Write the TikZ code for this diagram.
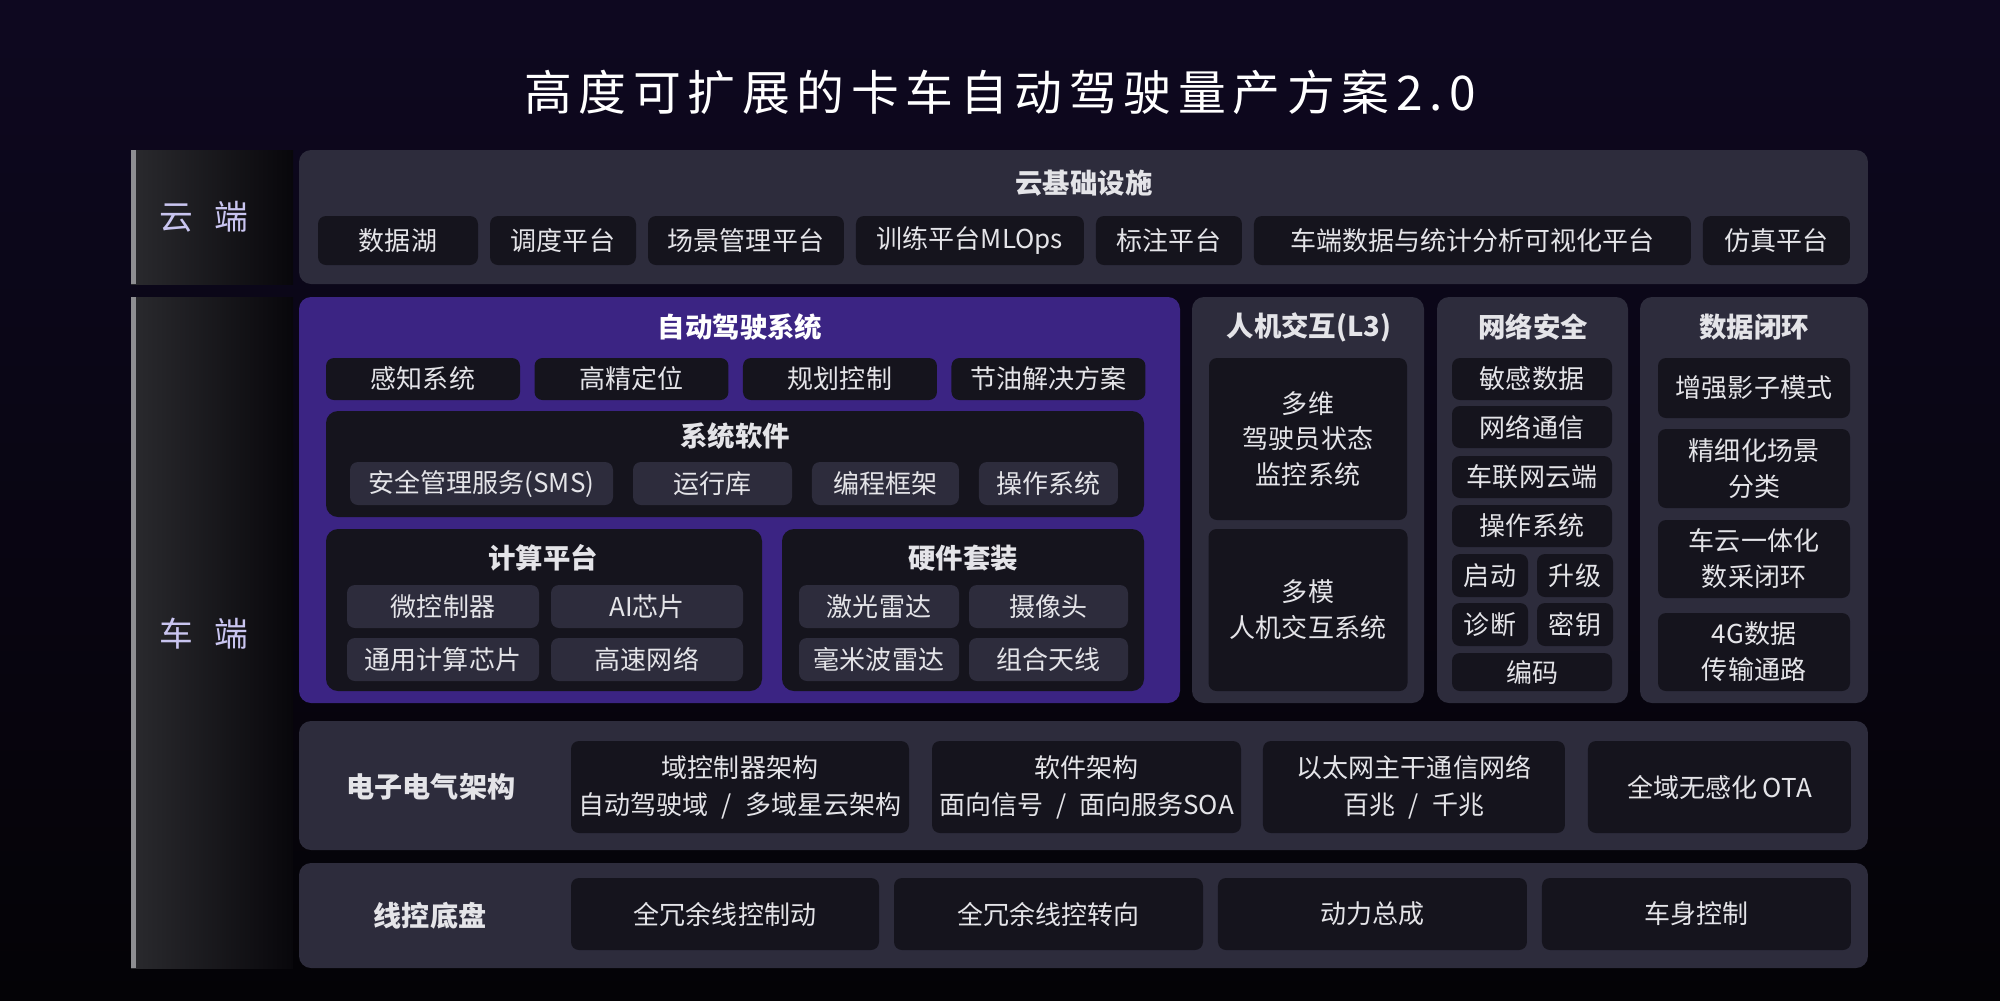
\documentclass[tikz,border=0pt]{standalone}
\usepackage{fontspec}
\setmainfont{Noto Sans CJK SC}
\newfontfamily\titlefont[LetterSpace=14]{Noto Sans CJK SC}
\usepackage{tikz}
\usetikzlibrary{positioning}
\definecolor{bgtop}{HTML}{0E0820}
\definecolor{bgbot}{HTML}{040306}
\definecolor{panelgrey}{HTML}{2D2C3C}
\definecolor{celldark}{HTML}{15141D}
\definecolor{adspurple}{HTML}{3B2483}
\definecolor{stripl}{HTML}{2A2A2E}
\definecolor{stripr}{HTML}{08070B}
\definecolor{stripbar}{HTML}{8E8E92}
\definecolor{lavender}{HTML}{C9C5F0}
\definecolor{txtlight}{HTML}{E4E4E8}

\begin{document}
\begin{tikzpicture}[x=0.1mm, y=-0.1mm,
    panel/.style={fill=panelgrey, rounded corners=1.2mm, inner sep=0pt, outer sep=0pt},
    cell/.style={fill=celldark, rounded corners=0.8mm, inner sep=0pt, outer sep=0pt,
      text=txtlight, align=center, font=\fontsize{7.4}{10.2}\selectfont},
    cellgrey/.style={cell, fill=panelgrey},
    head/.style={text=txtlight, inner sep=0pt, font=\fontsize{7.8}{9}\selectfont\bfseries},
    strip/.style={left color=stripl, right color=stripr, inner sep=0pt, outer sep=0pt},
    stripbar/.style={fill=stripbar, inner sep=0pt, outer sep=0pt, minimum width=0.45mm},
    sidelabel/.style={text=lavender, font=\fontsize{9.6}{11}\selectfont}]

  % background
  \path[top color=bgtop, bottom color=bgbot] (0,0) rectangle (2000,1000);
  \node[text=white, font=\titlefont\fontsize{13.6}{15}\selectfont] (title) at (1000,92)
    {高度可扩展的卡车自动驾驶量产方案2.0};

  % cloud
  \node[strip, minimum width=16.2mm, minimum height=13.4mm] (cloudstrip) at (212,217) {};
  \node[stripbar, minimum height=13.4mm, anchor=west] (cloudbar) at (cloudstrip.west) {};
  \node[sidelabel] (cloudlabel) at (204,217) {云\hspace{.65em}端};
  \node[panel, minimum width=156.9mm, minimum height=13.4mm] (cloudpanel) at (1083.5,217) {};
  \node[head] (cloudhead) at (1084,183) {云基础设施};
  \node[cell, minimum width=16mm, minimum height=4.9mm] (lake) at (398,240.5) {数据湖};
  \node[cell, minimum width=14.6mm, minimum height=4.9mm, right=1.2mm of lake] (sched) {调度平台};
  \node[cell, minimum width=19.6mm, minimum height=4.9mm, right=1.2mm of sched] (scene) {场景管理平台};
  \node[cell, minimum width=22.8mm, minimum height=4.9mm, right=1.2mm of scene] (train) {训练平台MLOps};
  \node[cell, minimum width=14.6mm, minimum height=4.9mm, right=1.2mm of train] (annot) {标注平台};
  \node[cell, minimum width=43.7mm, minimum height=4.9mm, right=1.2mm of annot] (vis) {车端数据与统计分析可视化平台};
  \node[cell, minimum width=14.7mm, minimum height=4.9mm, right=1.2mm of vis] (sim) {仿真平台};

  % vehicle
  \node[strip, minimum width=16.2mm, minimum height=67.1mm] (carstrip) at (212,632.5) {};
  \node[stripbar, minimum height=67.1mm, anchor=west] (carbar) at (carstrip.west) {};
  \node[sidelabel] (carlabel) at (204,634) {车\hspace{.65em}端};

  % autonomous driving system
  \node[panel, fill=adspurple, minimum width=88.1mm, minimum height=40.6mm] (adspanel) at (739.5,500) {};
  \node[head, text=white] (adshead) at (740,327) {自动驾驶系统};
  \node[cell, minimum width=19.4mm, minimum height=4.2mm] (percep) at (423,379) {感知系统};
  \node[cell, minimum width=19.4mm, minimum height=4.2mm, right=1.45mm of percep] (hdloc) {高精定位};
  \node[cell, minimum width=19.4mm, minimum height=4.2mm, right=1.45mm of hdloc] (plan) {规划控制};
  \node[cell, minimum width=19.4mm, minimum height=4.2mm, right=1.45mm of plan] (fuel) {节油解决方案};

  \node[panel, fill=celldark, minimum width=81.8mm, minimum height=10.6mm] (swpanel) at (735,464) {};
  \node[head] (swhead) at (735,436) {系统软件};
  \node[cellgrey, minimum width=26.3mm, minimum height=4.3mm] (sms) at (481.5,483.5) {安全管理服务(SMS)};
  \node[cellgrey, minimum width=15.9mm, minimum height=4.3mm, right=2mm of sms] (runtime) {运行库};
  \node[cellgrey, minimum width=14.7mm, minimum height=4.3mm, right=2mm of runtime] (framework) {编程框架};
  \node[cellgrey, minimum width=13.9mm, minimum height=4.3mm, right=2mm of framework] (os) {操作系统};

  \node[panel, fill=celldark, minimum width=43.6mm, minimum height=16.2mm] (cppanel) at (544,610) {};
  \node[head] (cphead) at (543,558) {计算平台};
  \node[cellgrey, minimum width=19.2mm, minimum height=4.3mm] (mcu) at (443,606.5) {微控制器};
  \node[cellgrey, minimum width=19.2mm, minimum height=4.3mm, right=1.2mm of mcu] (aichip) {AI芯片};
  \node[cellgrey, minimum width=19.2mm, minimum height=4.3mm, below=1mm of mcu] (gpchip) {通用计算芯片};
  \node[cellgrey, minimum width=19.2mm, minimum height=4.3mm, right=1.2mm of gpchip] (hsnet) {高速网络};

  \node[panel, fill=celldark, minimum width=36.2mm, minimum height=16.2mm] (hwpanel) at (963,610) {};
  \node[head] (hwhead) at (963,558) {硬件套装};
  \node[cellgrey, minimum width=16mm, minimum height=4.3mm] (lidar) at (879,606.5) {激光雷达};
  \node[cellgrey, minimum width=15.9mm, minimum height=4.3mm, right=1mm of lidar] (camera) {摄像头};
  \node[cellgrey, minimum width=16mm, minimum height=4.3mm, below=1mm of lidar] (radar) {毫米波雷达};
  \node[cellgrey, minimum width=15.9mm, minimum height=4.3mm, right=1mm of radar] (antenna) {组合天线};

  % human machine interaction
  \node[panel, minimum width=23.2mm, minimum height=40.6mm] (hmipanel) at (1308,500) {};
  \node[head] (hmihead) at (1309,327) {人机交互(L3)};
  \node[cell, minimum width=19.8mm, minimum height=16.2mm] (dms) at (1308,439) {多维\\驾驶员状态\\监控系统};
  \node[cell, minimum width=19.9mm, minimum height=16.2mm, below=0.9mm of dms] (mmi) {多模\\人机交互系统};

  % network security
  \node[panel, minimum width=19.1mm, minimum height=40.6mm] (secpanel) at (1532.5,500) {};
  \node[head] (sechead) at (1533,327) {网络安全};
  \node[cell, minimum width=16mm, minimum height=4.2mm] (sens) at (1532,379) {敏感数据};
  \node[cell, minimum width=16mm, minimum height=4.2mm, below=0.6mm of sens] (netcom) {网络通信};
  \node[cell, minimum width=16mm, minimum height=4.2mm, below=0.8mm of netcom] (v2c) {车联网云端};
  \node[cell, minimum width=16mm, minimum height=4.2mm, below=0.7mm of v2c] (secos) {操作系统};
  \node[cell, minimum width=7.6mm, minimum height=4.3mm, below=0.7mm of secos.south west, anchor=north west] (boot) {启动};
  \node[cell, minimum width=7.6mm, minimum height=4.3mm, right=0.9mm of boot] (upgrade) {升级};
  \node[cell, minimum width=7.6mm, minimum height=4.3mm, below=0.6mm of boot] (diag) {诊断};
  \node[cell, minimum width=7.6mm, minimum height=4.3mm, right=0.9mm of diag] (keys) {密钥};
  \node[cell, minimum width=16mm, minimum height=3.8mm, below=0.7mm of diag.south west, anchor=north west] (codec) {编码};

  % data loop
  \node[panel, minimum width=22.8mm, minimum height=40.6mm] (looppanel) at (1754,500) {};
  \node[head] (loophead) at (1754,327) {数据闭环};
  \node[cell, minimum width=19.2mm, minimum height=6mm] (shadow) at (1754,388) {增强影子模式};
  \node[cell, minimum width=19.2mm, minimum height=7.9mm, below=1.1mm of shadow] (scenecls) {精细化场景\\分类};
  \node[cell, minimum width=19.2mm, minimum height=7.8mm, below=1.2mm of scenecls] (vcloop) {车云一体化\\数采闭环};
  \node[cell, minimum width=19.2mm, minimum height=7.8mm, below=1.5mm of vcloop] (fourg) {4G数据\\传输通路};

  % e/e architecture
  \node[panel, minimum width=156.9mm, minimum height=12.9mm] (eepanel) at (1083.5,785.5) {};
  \node[head, font=\fontsize{8}{9}\selectfont\bfseries] (eehead) at (431,787) {电子电气架构};
  \node[cell, minimum width=33.8mm, minimum height=9.2mm, font=\fontsize{7.4}{10.5}\selectfont] (dcu) at (740,787)
    {域控制器架构\\自动驾驶域\hspace{.5em}/\hspace{.5em}多域星云架构};
  \node[cell, minimum width=30.9mm, minimum height=9.2mm, font=\fontsize{7.4}{10.5}\selectfont, right=2.3mm of dcu] (swarch)
    {软件架构\\面向信号\hspace{.5em}/\hspace{.5em}面向服务SOA};
  \node[cell, minimum width=30.2mm, minimum height=9.2mm, font=\fontsize{7.4}{10.5}\selectfont, right=2.2mm of swarch] (ether)
    {以太网主干通信网络\\百兆\hspace{.5em}/\hspace{.5em}千兆};
  \node[cell, minimum width=26.3mm, minimum height=9.2mm, right=2.3mm of ether] (ota) {全域无感化 OTA};

  % drive-by-wire chassis
  \node[panel, minimum width=156.9mm, minimum height=10.5mm] (chpanel) at (1083.5,915.5) {};
  \node[head, font=\fontsize{8}{9}\selectfont\bfseries] (chhead) at (430,916) {线控底盘};
  \node[cell, minimum width=30.8mm, minimum height=7.2mm] (brake) at (725,914) {全冗余线控制动};
  \node[cell, minimum width=30.9mm, minimum height=7.2mm, right=1.5mm of brake] (steer) {全冗余线控转向};
  \node[cell, minimum width=30.9mm, minimum height=7.2mm, right=1.5mm of steer] (power) {动力总成};
  \node[cell, minimum width=30.9mm, minimum height=7.2mm, right=1.5mm of power] (body) {车身控制};
\end{tikzpicture}
\end{document}
